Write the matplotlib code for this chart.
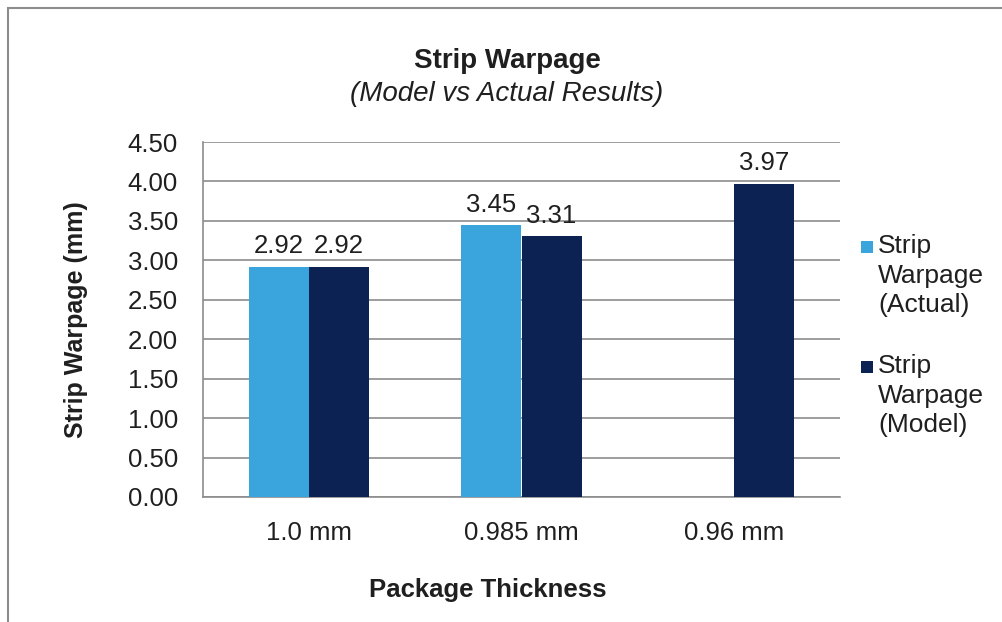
import numpy as np
import matplotlib.pyplot as plt
from matplotlib.patches import Rectangle

plt.rcParams['font.family'] = ['Liberation Sans', 'DejaVu Sans']

# Data
categories = ['1.0 mm', '0.985 mm', '0.96 mm']
actual = [2.92, 3.45, np.nan]
model = [2.92, 3.31, 3.97]
series_names = ['Strip\nWarpage\n(Actual)', 'Strip\nWarpage\n(Model)']
colors = ['#3AA5DC', '#0B2252']
text_color = '#1f1f1f'

fig = plt.figure(figsize=(10.03, 6.22), dpi=100)
fig.patch.set_facecolor('white')

# outer chart border (only left and top edges visible in the crop)
fig.patches.append(Rectangle((8 / 1003, -0.02), 1.0, 614 / 622 + 0.02,
                             transform=fig.transFigure, fill=False,
                             edgecolor='#8c8c8c', linewidth=1.5))

ax = fig.add_axes([203 / 1003, 1 - 497 / 622, (840 - 203) / 1003, (497 - 142) / 622])

x = np.arange(len(categories))
w = 0.283
b1 = ax.bar(x - w / 2, actual, w, color=colors[0], zorder=3)
b2 = ax.bar(x + w / 2, model, w, color=colors[1], zorder=3)

# value labels above bars
for bars, vals in [(b1, actual), (b2, model)]:
    for bar, v in zip(bars, vals):
        if np.isnan(v):
            continue
        ax.annotate(f'{v:.2f}', (bar.get_x() + bar.get_width() / 2, v),
                    xytext=(0, 6), textcoords='offset points',
                    ha='center', va='bottom', fontsize=18.5, color=text_color)

ax.set_xlim(-0.5, 2.5)
ax.set_ylim(0, 4.5)
yt = np.arange(0, 4.51, 0.5)
ax.set_yticks(yt)
ax.set_yticklabels([f'{t:.2f}' for t in yt], fontsize=18.5)
ax.set_xticks(x)
ax.set_xticklabels(categories, fontsize=18.5)
ax.tick_params(axis='y', length=0, pad=18, colors=text_color)
ax.tick_params(axis='x', length=0, pad=17, colors=text_color)
ax.yaxis.grid(True, color='#8c8c8c', linewidth=1.2, zorder=0)
ax.set_axisbelow(True)
for s in ['top', 'right']:
    ax.spines[s].set_visible(False)
for s in ['left', 'bottom']:
    ax.spines[s].set_color('#8c8c8c')
    ax.spines[s].set_linewidth(1.2)

ax.set_ylabel('Strip Warpage (mm)', fontsize=18, fontweight='bold', color=text_color)
ax.yaxis.label.set_va('center')
ax.yaxis.set_label_coords((76 - 203) / 637, 0.5)
ax.set_xlabel('Package Thickness', fontsize=18.5, fontweight='bold', color=text_color)
ax.xaxis.label.set_va('center')
ax.xaxis.set_label_coords((488 - 203) / 637, -(590 - 497) / 355)

fig.text(507 / 1003, 1 - 61 / 622, 'Strip Warpage', ha='center', va='center',
         fontsize=20, fontweight='bold', color=text_color)
fig.text(507 / 1003, 1 - 94 / 622, '(Model vs Actual Results)', ha='center', va='center',
         fontsize=20, style='italic', color=text_color)

# legend: square marker aligned with the first line of each wrapped label
legend_tops = [234, 354]
for name, col, ytop in zip(series_names, colors, legend_tops):
    fig.patches.append(Rectangle((861 / 1003, 1 - (ytop + 19) / 622), 12 / 1003, 12 / 622,
                                 transform=fig.transFigure, facecolor=col,
                                 edgecolor='none'))
    fig.text(878 / 1003, 1 - ytop / 622, name, ha='left', va='top',
             fontsize=19, linespacing=1.3, color=text_color)

fig.savefig('out.png', dpi=100)
